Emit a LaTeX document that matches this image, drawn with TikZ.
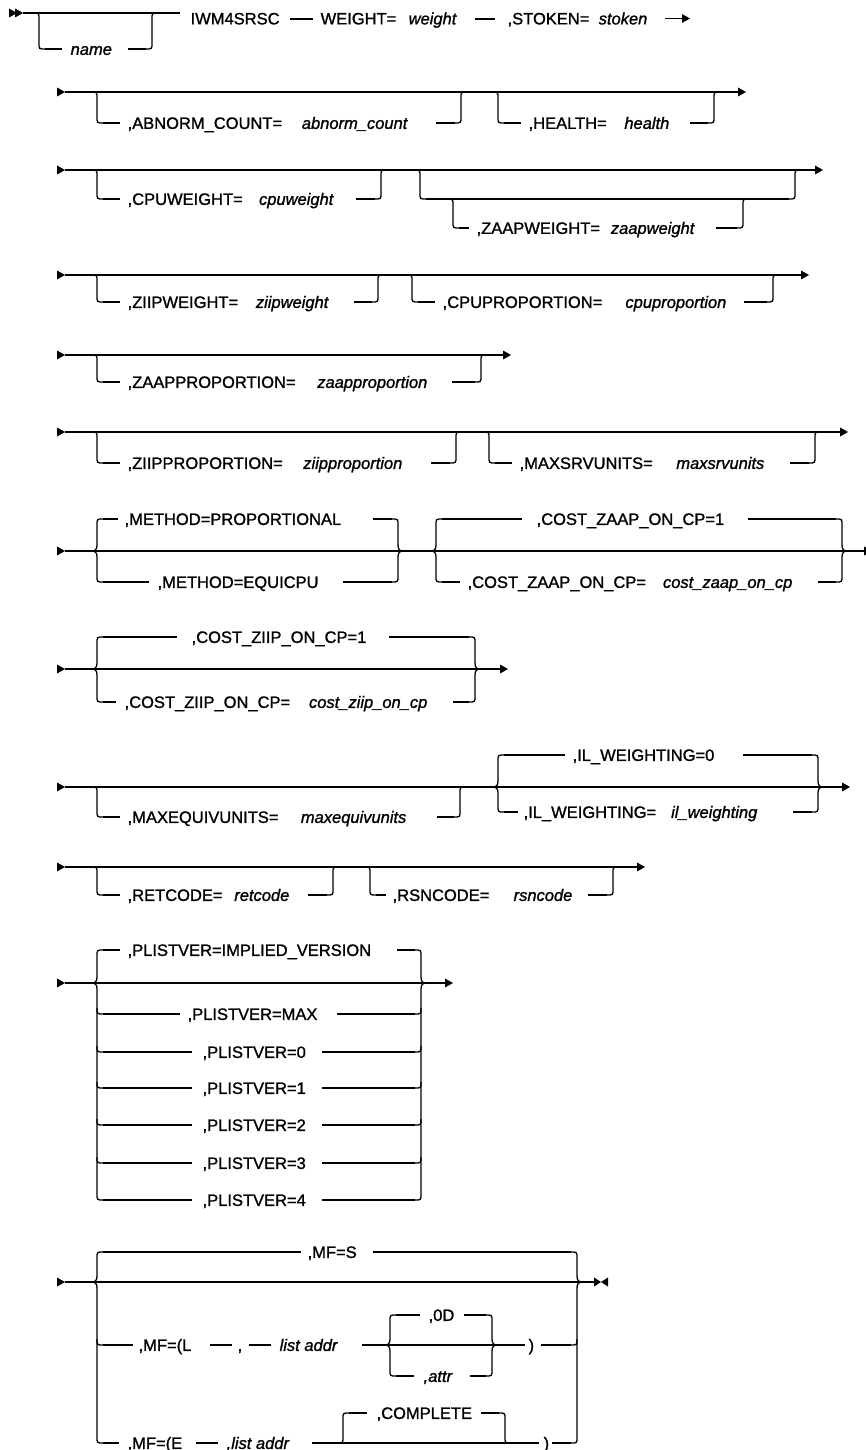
\documentclass[tikz,border=0pt]{standalone}
\usepackage{fontspec}
\setmainfont{Liberation Sans}
\newfontfamily\diagfont[FakeBold=1.2]{Liberation Sans}
\newcommand{\kwf}{\diagfont\fontsize{16.5}{19}\selectfont}
\newcommand{\vrf}{\diagfont\fontsize{16.5}{19}\selectfont\itshape}
% arrow tips (base x, y)
\newcommand{\Tip}[2]{\fill (#1,#2-4.5) -- (#1+8,#2) -- (#1,#2+4.5) -- cycle;}
% choice braces: x, ytop, ymain, ybot
\newcommand{\LBr}[4]{%
 \draw (#1+6,#2) .. controls (#1,#2) .. (#1,#2+6) -- (#1,#3-6) .. controls (#1,#3-1) and (#1-2,#3) .. (#1-6,#3);
 \draw (#1-6,#3) .. controls (#1-2,#3) and (#1,#3+1) .. (#1,#3+6) -- (#1,#4-6) .. controls (#1,#4) .. (#1+6,#4);}
\newcommand{\RBr}[4]{%
 \draw (#1-6,#2) .. controls (#1,#2) .. (#1,#2+6) -- (#1,#3-6) .. controls (#1,#3-1) and (#1+2,#3) .. (#1+6,#3);
 \draw (#1+6,#3) .. controls (#1+2,#3) and (#1,#3+1) .. (#1,#3+6) -- (#1,#4-6) .. controls (#1,#4) .. (#1-6,#4);}
\newcommand{\LMid}[2]{\draw (#1,#2-6) .. controls (#1,#2) .. (#1+6,#2);}
\newcommand{\RMid}[2]{\draw (#1,#2-6) .. controls (#1,#2) .. (#1-6,#2);}
% optional branch below: x, ymain, ybot
\newcommand{\OptL}[3]{\draw (#1-6,#2) .. controls (#1,#2) .. (#1,#2+6) -- (#1,#3-6) .. controls (#1,#3) .. (#1+6,#3);}
\newcommand{\OptR}[3]{\draw (#1-6,#3) .. controls (#1,#3) .. (#1,#3-6) -- (#1,#2+6) .. controls (#1,#2) .. (#1+6,#2);}
% optional default branch above: x, ymain, ytop
\newcommand{\UpL}[3]{\draw (#1-6,#2) .. controls (#1,#2) .. (#1,#2-6) -- (#1,#3+6) .. controls (#1,#3) .. (#1+6,#3);}
\newcommand{\UpR}[3]{\draw (#1-6,#3) .. controls (#1,#3) .. (#1,#3+6) -- (#1,#2-6) .. controls (#1,#2) .. (#1+6,#2);}
\tikzset{
 kw/.style={font=\kwf, text height=11.8pt, text depth=0pt, inner sep=0pt, anchor=west},
 vr/.style={font=\vrf, text height=11.8pt, text depth=0pt, inner sep=0pt},
}
\begin{document}
\begin{tikzpicture}[x=1pt, y=-1pt, line width=1.3pt]
\fill[white] (0,0) rectangle (866,1450);
\useasboundingbox (0,0) rectangle (866,1450);

% ---------- Row 1
\fill (9,13-4.5) -- (17,13) -- (9,13+4.5) -- cycle;
\fill (15,13-4.5) -- (23,13) -- (15,13+4.5) -- cycle;
\draw (23,13) -- (180,13);
\OptL{39}{13}{49}
\draw (45,49) -- (62,49);
\node[vr, anchor=west] (name) at (70,49) {name};
\draw (128,49) -- (146,49);
\OptR{152}{13}{49}
\node[kw] (iwm) at (190,18.5) {IWM4SRSC};
\draw (290,19) -- (313,19);
\node[kw] (wkw) at (320,18.5) {WEIGHT=};
\node[vr, anchor=east] (wvr) at (457,18.5) {weight};
\draw (475,19) -- (495,19);
\node[kw] (skw) at (507,18.5) {,STOKEN=};
\node[vr, anchor=east] (svr) at (648,18.5) {stoken};
\draw (665,18.5) -- (683,18.5);
\Tip{682}{18.5}

% ---------- Row 2
\Tip{57}{92}
\draw (65,92) -- (738,92);
\Tip{738}{92}
\OptL{97}{92}{123}
\draw (103,123) -- (120,123);
\node[kw] (abk) at (127,123) {,ABNORM\_COUNT=};
\node[vr, anchor=east] (abv) at (408,123) {abnorm\_count};
\draw (436,123) -- (455,123);
\OptR{461}{92}{123}
\OptL{498}{92}{123}
\draw (504,123) -- (521,123);
\node[kw] (hek) at (528,123) {,HEALTH=};
\node[vr, anchor=east] (hev) at (670,123) {health};
\draw (690,123) -- (708,123);
\OptR{714}{92}{123}

% ---------- Row 3
\Tip{57}{170}
\draw (65,170) -- (815,170);
\Tip{815}{170}
\OptL{97}{170}{199}
\draw (103,199) -- (120,199);
\node[kw] (cwk) at (127,199) {,CPUWEIGHT=};
\node[vr, anchor=east] (cwv) at (334,199) {cpuweight};
\draw (356,199) -- (375,199);
\OptR{381}{170}{199}
\OptL{420}{170}{199}
\draw (426,199) -- (789,199);
\OptR{795}{170}{199}
\OptL{453}{199}{228}
\draw (459,228) -- (469,228);
\node[kw] (zwk) at (476,228) {,ZAAPWEIGHT=};
\node[vr, anchor=east] (zwv) at (695,228) {zaapweight};
\draw (716,228) -- (737,228);
\OptR{743}{199}{228}

% ---------- Row 4
\Tip{57}{275}
\draw (65,275) -- (801,275);
\Tip{801}{275}
\OptL{97}{275}{302}
\draw (103,302) -- (120,302);
\node[kw] (ziwk) at (127,302) {,ZIIPWEIGHT=};
\node[vr, anchor=east] (ziwv) at (329,302) {ziipweight};
\draw (354,302) -- (372,302);
\OptR{378}{275}{302}
\OptL{412}{275}{302}
\draw (418,302) -- (435,302);
\node[kw] (cpk) at (442,302) {,CPUPROPORTION=};
\node[vr, anchor=east] (cpv) at (727,302) {cpuproportion};
\draw (744,302) -- (767,302);
\OptR{773}{275}{302}

% ---------- Row 5
\Tip{57}{355}
\draw (65,355) -- (503,355);
\Tip{503}{355}
\OptL{97}{355}{382}
\draw (103,382) -- (120,382);
\node[kw] (zpk) at (127,382) {,ZAAPPROPORTION=};
\node[vr, anchor=east] (zpv) at (428,382) {zaapproportion};
\draw (452,382) -- (475,382);
\OptR{481}{355}{382}

% ---------- Row 6
\Tip{57}{432}
\draw (65,432) -- (840,432);
\Tip{840}{432}
\OptL{97}{432}{463}
\draw (103,463) -- (120,463);
\node[kw] (zipk) at (127,463) {,ZIIPPROPORTION=};
\node[vr, anchor=east] (zipv) at (403,463) {ziipproportion};
\draw (431,463) -- (450,463);
\OptR{456}{432}{463}
\OptL{489}{432}{463}
\draw (495,463) -- (512,463);
\node[kw] (msk) at (519,463) {,MAXSRVUNITS=};
\node[vr, anchor=east] (msv) at (765,463) {maxsrvunits};
\draw (790,463) -- (809,463);
\OptR{815}{432}{463}

% ---------- Row 7
\Tip{57}{551}
\draw (65,551) -- (864,551);
\Tip{864}{551}
\LBr{97}{519}{551}{582}
\draw (103,519) -- (118,519);
\node[kw] (mpk) at (124,519) {,METHOD=PROPORTIONAL};
\draw (373,519) -- (392,519);
\draw (103,582) -- (149,582);
\node[kw] (mek) at (157,582) {,METHOD=EQUICPU};
\draw (343,582) -- (392,582);
\RBr{398}{519}{551}{582}
\LBr{436}{519}{551}{582}
\draw (442,519) -- (522,519);
\node[kw] (cz1) at (536,519) {,COST\_ZAAP\_ON\_CP=1};
\draw (748,519) -- (836,519);
\draw (442,582) -- (460,582);
\node[kw] (czk) at (467,582) {,COST\_ZAAP\_ON\_CP=};
\node[vr, anchor=east] (czv) at (793,582) {cost\_zaap\_on\_cp};
\draw (818,582) -- (836,582);
\RBr{842}{519}{551}{582}

% ---------- Row 8
\Tip{57}{669}
\draw (65,669) -- (500,669);
\Tip{500}{669}
\LBr{97}{637}{669}{702}
\draw (103,637) -- (177,637);
\node[kw] (ci1) at (191,637) {,COST\_ZIIP\_ON\_CP=1};
\draw (389,637) -- (469,637);
\draw (103,702) -- (116,702);
\node[kw] (cik) at (124,702) {,COST\_ZIIP\_ON\_CP=};
\node[vr, anchor=east] (civ) at (428,702) {cost\_ziip\_on\_cp};
\draw (453,702) -- (469,702);
\RBr{475}{637}{669}{702}

% ---------- Row 9
\Tip{57}{787}
\draw (65,787) -- (842,787);
\Tip{842}{787}
\OptL{97}{787}{817}
\draw (103,817) -- (120,817);
\node[kw] (mek2) at (127,817) {,MAXEQUIVUNITS=};
\node[vr, anchor=east] (mev) at (407,817) {maxequivunits};
\draw (437,817) -- (454,817);
\OptR{460}{787}{817}
\LBr{498}{755}{787}{812}
\draw (504,755) -- (565,755);
\node[kw] (il0) at (572,755) {,IL\_WEIGHTING=0};
\draw (743,755) -- (812,755);
\draw (504,812) -- (518,812);
\node[kw] (ilk) at (523,812) {,IL\_WEIGHTING=};
\node[vr, anchor=east] (ilv) at (758,812) {il\_weighting};
\draw (793,812) -- (812,812);
\RBr{818}{755}{787}{812}

% ---------- Row 10
\Tip{57}{867}
\draw (65,867) -- (637,867);
\Tip{637}{867}
\OptL{97}{867}{895}
\draw (103,895) -- (120,895);
\node[kw] (rck) at (127,895) {,RETCODE=};
\node[vr, anchor=east] (rcv) at (290,895) {retcode};
\draw (308,895) -- (327,895);
\OptR{333}{867}{895}
\OptL{370}{867}{895}
\draw (376,895) -- (386,895);
\node[kw] (rsk) at (392,895) {,RSNCODE=};
\node[vr, anchor=east] (rsv) at (573,895) {rsncode};
\draw (588,895) -- (607,895);
\OptR{613}{867}{895}

% ---------- Row 11 PLISTVER
\Tip{57}{983}
\draw (65,983) -- (445,983);
\Tip{445}{983}
\LBr{97}{950}{983}{1200}
\RBr{421}{950}{983}{1200}
\draw (103,950) -- (120,950);
\node[kw] (plI) at (127,950) {,PLISTVER=IMPLIED\_VERSION};
\draw (397,950) -- (415,950);
\LMid{97}{1014} \RMid{421}{1014}
\draw (103,1014) -- (180,1014);
\node[kw] (plM) at (187,1014) {,PLISTVER=MAX};
\draw (337,1014) -- (415,1014);
\foreach \yy/\vv in {1052/0,1088/1,1125/2,1163/3,1200/4}{
  \draw (103,\yy) -- (192,\yy);
  \node[kw] (pl\vv) at (202,\yy) {,PLISTVER=\vv};
  \draw (322,\yy) -- (415,\yy);
}
\LMid{97}{1052} \RMid{421}{1052}
\LMid{97}{1088} \RMid{421}{1088}
\LMid{97}{1125} \RMid{421}{1125}
\LMid{97}{1163} \RMid{421}{1163}

% ---------- Row 12 MF
\Tip{57}{1282}
\draw (65,1282) -- (594,1282);
\fill (594,1282-4.5) -- (601,1282) -- (594,1282+4.5) -- cycle;
\fill (608,1282-4.5) -- (601,1282) -- (608,1282+4.5) -- cycle;
\LBr{97}{1252}{1282}{1443}
\RBr{577}{1252}{1282}{1443}
\draw (103,1252) -- (301,1252);
\node[kw] (mfs) at (307,1252) {,MF=S};
\draw (373,1252) -- (571,1252);
% L row
\LMid{97}{1345} \RMid{577}{1345}
\draw (103,1345) -- (133,1345);
\node[kw] (mfl) at (138,1345) {,MF=(L};
\draw (210,1345) -- (232,1345);
\node[kw] (com) at (237,1345) {,};
\draw (249,1345) -- (271,1345);
\node[vr, anchor=west] (la1) at (279,1345) {list addr};
\draw (362,1345) -- (525,1345);
\LBr{390}{1315}{1345}{1376}
\RBr{492}{1315}{1345}{1376}
\draw (396,1315) -- (420,1315);
\node[kw] (od) at (428,1315) {,0D};
\draw (464,1315) -- (486,1315);
\draw (396,1376) -- (414,1376);
\node[vr, anchor=west] (attr) at (423,1376) {,attr};
\draw (470,1376) -- (486,1376);
\node[kw] (rp1) at (528,1345) {)};
\draw (541,1345) -- (571,1345);
% E row
\draw (103,1443) -- (119,1443);
\node[kw] (mfe) at (127,1443) {,MF=(E};
\draw (196,1443) -- (218,1443);
\node[vr, anchor=west] (la2) at (226,1443) {,list addr};
\draw (312,1443) -- (539,1443);
\UpL{343}{1443}{1413}
\draw (349,1413) -- (367,1413);
\node[kw] (cpl) at (376,1413) {,COMPLETE};
\draw (481,1413) -- (499,1413);
\UpR{505}{1443}{1413}
\node[kw] (rp2) at (543,1443) {)};
\draw (552,1443) -- (571,1443);
\end{tikzpicture}
\end{document}
